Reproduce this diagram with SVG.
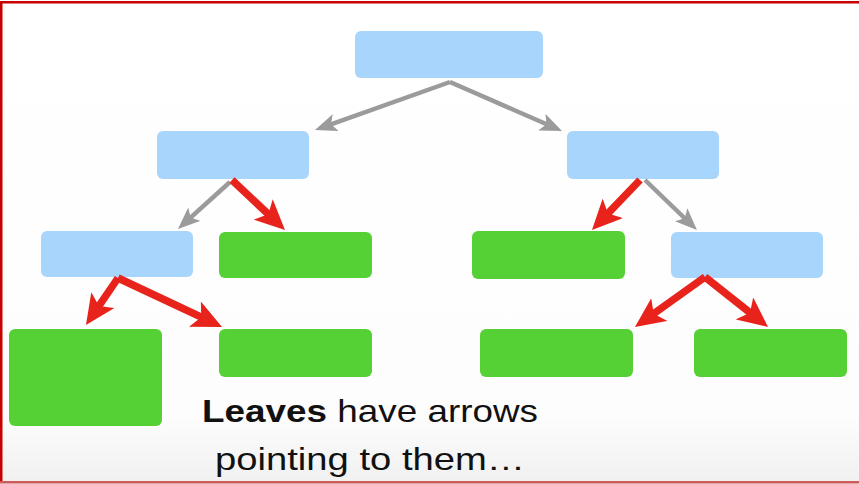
<svg xmlns="http://www.w3.org/2000/svg" width="859" height="484" viewBox="0 0 859 484">
  <defs>
    <linearGradient id="bg" x1="0" y1="0" x2="0" y2="1">
      <stop offset="0" stop-color="#ffffff"/>
      <stop offset="0.86" stop-color="#fdfdfd"/>
      <stop offset="1" stop-color="#f0f0f0"/>
    </linearGradient>
    <marker id="gh" markerUnits="userSpaceOnUse" markerWidth="22" markerHeight="18" viewBox="0 0 22 18" refX="14" refY="9" orient="auto">
      <path d="M0,0 L22,9 L0,18 L5,9 Z" fill="#9b9b9b"/>
    </marker>
    <marker id="rh" markerUnits="userSpaceOnUse" markerWidth="30" markerHeight="28" viewBox="0 0 30 28" refX="20" refY="14" orient="auto">
      <path d="M0,0 L30,14 L0,28 L7,14 Z" fill="#e8231b"/>
    </marker>
    <style>
      .blue { fill: #a8d5fb; }
      .green { fill: #55d136; }
      .g { stroke: #9b9b9b; stroke-width: 4.5; fill: none; marker-end: url(#gh); }
      .r { stroke: #e8231b; stroke-width: 7.5; fill: none; marker-end: url(#rh); }
      .t { font-family: "Liberation Sans", Arial, Helvetica, sans-serif; font-size: 32px; fill: #111111; }
    </style>
  </defs>
  <rect x="0" y="0" width="859" height="484" fill="url(#bg)"/>
  <g id="frame">
    <rect x="0" y="1" width="859" height="2.5" fill="#c80000"/>
    <rect x="0" y="1" width="2.5" height="482" fill="#c80000"/>
    <rect x="0" y="481" width="859" height="2.5" fill="#d05a5a"/>
  </g>
  <g id="root"><rect class="blue" x="355" y="31" width="188" height="47" rx="6"/></g>
  <g id="midL"><rect class="blue" x="157" y="131" width="152" height="48" rx="6"/></g>
  <g id="midR"><rect class="blue" x="567" y="131" width="152" height="48" rx="6"/></g>
  <g id="blueL"><rect class="blue" x="41" y="231" width="152" height="46" rx="6"/></g>
  <g id="leafL2"><rect class="green" x="219" y="232" width="153" height="46" rx="6"/></g>
  <g id="leafR1"><rect class="green" x="472" y="231" width="153" height="48" rx="6"/></g>
  <g id="blueR"><rect class="blue" x="671" y="232" width="152" height="46" rx="6"/></g>
  <g id="leafBig"><rect class="green" x="9" y="329" width="153" height="97" rx="6"/></g>
  <g id="leafL4"><rect class="green" x="219" y="329" width="153" height="48" rx="6"/></g>
  <g id="leafR4a"><rect class="green" x="480" y="329" width="153" height="48" rx="6"/></g>
  <g id="leafR4b"><rect class="green" x="694" y="329" width="153" height="48" rx="6"/></g>
  <g id="connectors">
    <line class="g" x1="450" y1="82" x2="322.5" y2="127.3"/>
    <line class="g" x1="450" y1="82" x2="554.7" y2="127.8"/>
    <line class="g" x1="230" y1="182" x2="183.9" y2="223.6"/>
    <line class="g" x1="645" y1="180" x2="691.2" y2="224.5"/>
    <line class="r" x1="232" y1="180" x2="277.7" y2="223.1"/>
    <line class="r" x1="118" y1="278" x2="91.6" y2="316.7"/>
    <line class="r" x1="118" y1="278" x2="213" y2="322.7"/>
    <line class="r" x1="640" y1="180" x2="598.9" y2="222.8"/>
    <line class="r" x1="705" y1="277" x2="643.1" y2="321.2"/>
    <line class="r" x1="705" y1="277" x2="760.2" y2="320.8"/>
  </g>
  <g id="caption">
    <text class="t" x="202" y="422" textLength="336" lengthAdjust="spacingAndGlyphs"><tspan font-weight="bold">Leaves</tspan> have arrows</text>
    <text class="t" x="215" y="470" textLength="310" lengthAdjust="spacingAndGlyphs">pointing to them…</text>
  </g>
</svg>
